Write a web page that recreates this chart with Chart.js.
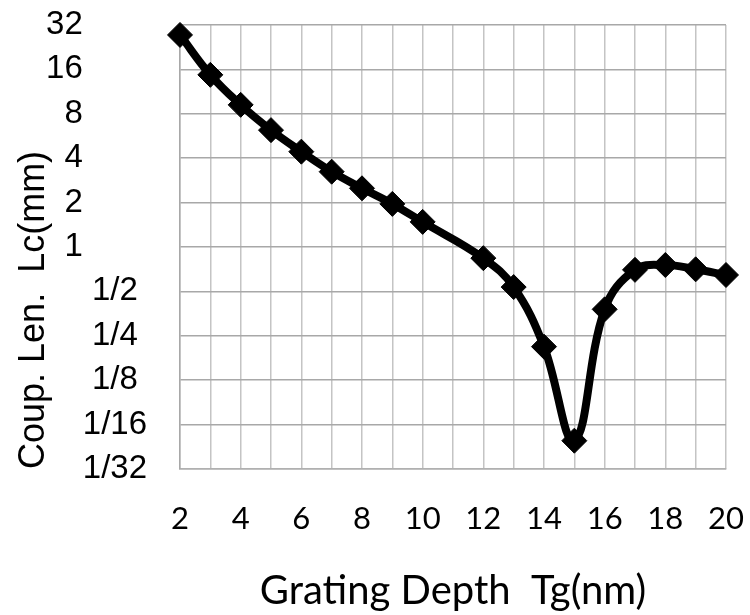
<!DOCTYPE html>
<html>
<head>
<meta charset="utf-8">
<script src="https://cdn.jsdelivr.net/npm/chart.js@4/dist/chart.umd.min.js"></script>
<style>
    html, body { margin: 0; padding: 0; background: #fff; }
    #wrap { width: 750px; height: 615px; }
</style>
</head>
<body>
<div id="wrap"><canvas id="lcChart" width="750" height="615"></canvas></div>
<script>
// Grating depth (nm) and coupling length (mm)
const depthNm = [2, 3, 4, 5, 6, 7, 8, 9, 10, 12, 13, 14, 15, 16, 17, 18, 19, 20];
const coupLenMm = [27.4, 14.7, 9.2, 6.2, 4.43, 3.24, 2.5, 1.96, 1.48, 0.84, 0.535, 0.211, 0.0486, 0.378, 0.70, 0.755, 0.706, 0.646];

// y axis ticks (powers of two) and their labels
const yTickValues = [1/32, 1/16, 1/8, 1/4, 1/2, 1, 2, 4, 8, 16, 32];
const yTickLabels = ['1/32', '1/16', '1/8', '1/4', '1/2', '1', '2', '4', '8', '16', '32'];
const xTickLabels = ['2', '4', '6', '8', '10', '12', '14', '16', '18', '20'];

// trailing spaces so the right-aligned labels sit like the original
function padLabel(lbl) {
    if (lbl.indexOf('/') < 0) return lbl + ' '.repeat(7);
    if (lbl.length === 3) return lbl + ' ';
    return lbl;
}

const ctx = document.getElementById('lcChart').getContext('2d');
new Chart(ctx, {
    type: 'line',
    data: {
        datasets: [{
            label: 'Lc',
            data: depthNm.map((d, i) => ({ x: d, y: coupLenMm[i] })),
            borderColor: '#000',
            backgroundColor: '#000',
            borderWidth: 8,
            tension: 0.4,
            pointStyle: 'rectRot',
            pointRadius: 12.5,
            pointBorderWidth: 1,
            pointBackgroundColor: '#000',
            pointBorderColor: '#000',
            clip: false
        }]
    },
    options: {
        responsive: false,
        animation: false,
        devicePixelRatio: 1,
        layout: { padding: { top: 25, right: 24, left: 0, bottom: 0 } },
        plugins: {
            legend: { display: false },
            tooltip: { enabled: false }
        },
        scales: {
            x: {
                type: 'linear',
                min: 2,
                max: 20,
                ticks: {
                    stepSize: 1,
                    autoSkip: false,
                    maxRotation: 0,
                    padding: 0,
                    color: '#000',
                    font: { family: 'Lato', size: 31 },
                    callback: function(value) {
                        const s = String(Math.round(value));
                        return xTickLabels.includes(s) ? s : '';
                    }
                },
                // invisible tick marks push the labels down
                grid: { color: '#c4c4c4', lineWidth: 1.5, drawTicks: true, tickLength: 31, tickColor: 'rgba(0,0,0,0)' },
                border: { color: '#b0b0b0', width: 1.5 },
                title: {
                    display: true,
                    text: 'Grating Depth  Tg(nm)',
                    color: '#000',
                    font: { family: 'Lato', size: 40 },
                    padding: { top: 30, bottom: 0 }
                },
                afterFit: function(scale) { scale.height = 146; }
            },
            y: {
                type: 'logarithmic',
                min: 1/32,
                max: 32,
                afterBuildTicks: function(scale) {
                    scale.ticks = yTickValues.map(v => ({ value: v }));
                },
                ticks: {
                    padding: 0,
                    color: '#000',
                    font: { family: 'Liberation Sans', size: 33 },
                    callback: function(value) {
                        const i = yTickValues.findIndex(v => Math.abs(v - value) < v * 1e-6);
                        return i < 0 ? '' : padLabel(yTickLabels[i]);
                    }
                },
                grid: { color: '#a8a8a8', lineWidth: 1.5, drawTicks: true, tickLength: 33, tickColor: 'rgba(0,0,0,0)' },
                border: { color: '#a8a8a8', width: 1.5 },
                title: {
                    display: true,
                    text: 'Coup. Len.  Lc(mm)',
                    align: 'start',
                    color: '#000',
                    font: { family: 'Liberation Sans', size: 36 },
                    padding: { top: 12, bottom: 0 }
                },
                afterFit: function(scale) { scale.width = 180; }
            }
        }
    }
});
</script>
</body>
</html>
